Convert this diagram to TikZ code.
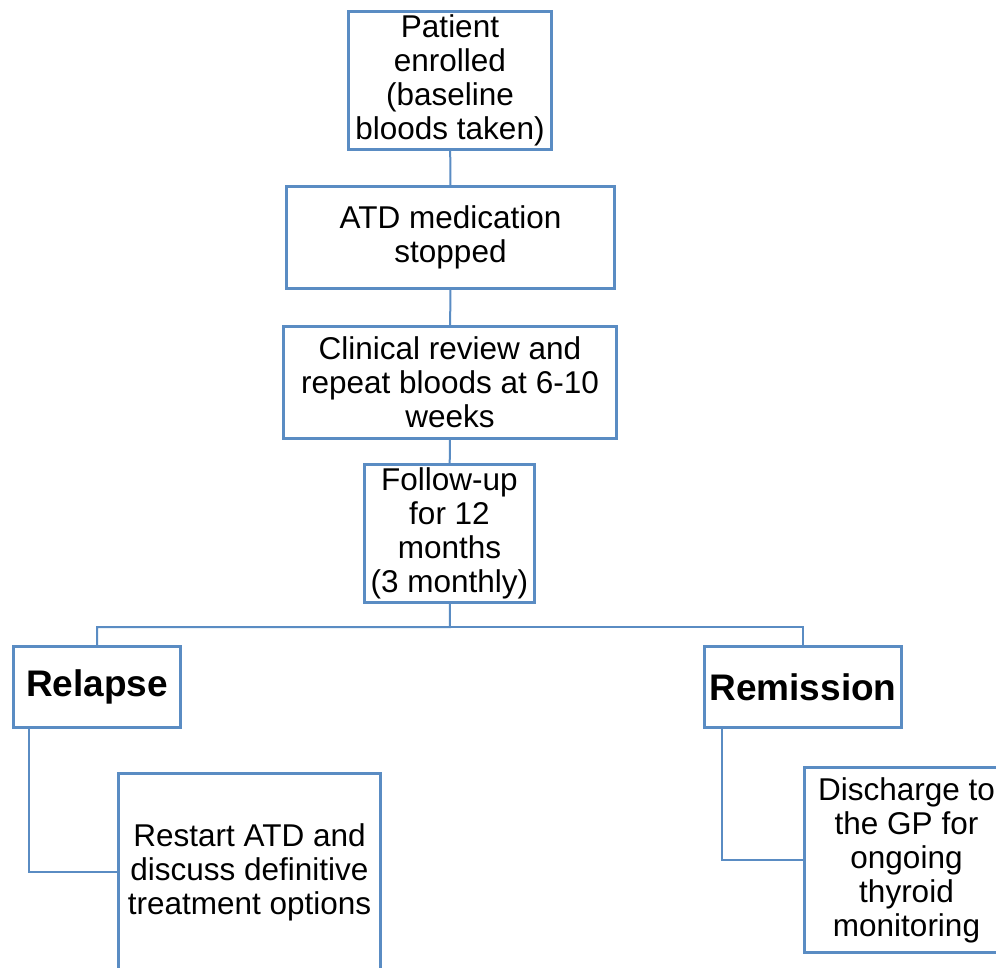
\documentclass[tikz,border=0pt]{standalone}
\usepackage{fontspec}
\setmainfont{Liberation Sans}
\usetikzlibrary{positioning}
\definecolor{boxblue}{HTML}{5A8CC3}
\begin{document}
\begin{tikzpicture}[x=1pt, y=-1pt,
    blk/.style={draw=boxblue, line width=3pt, rectangle, fill=white, align=center, inner sep=2pt, font=\fontsize{31.5}{34}\selectfont},
    big/.style={blk, font=\fontsize{37}{40}\selectfont\bfseries},
    link/.style={draw=boxblue, line width=2pt}]
    \useasboundingbox (0,0) rectangle (996,968);
    % Nodes
    \node[blk, minimum width=203pt, minimum height=138pt] (enrol) at (450,80.5) {Patient\\enrolled\\(baseline\\bloods taken)};
    \node[blk, minimum width=328pt, minimum height=102pt] (stop) at (450.5,237.5) {ATD medication\\stopped};
    \node[blk, minimum width=333pt, minimum height=112pt] (review) at (450,382.5) {Clinical review and\\repeat bloods at 6-10\\weeks};
    \node[blk, minimum width=170pt, minimum height=138pt] (follow) at (449.5,533.5) {Follow-up\\for 12\\months\\(3 monthly)};
    \node[big, minimum width=167pt, minimum height=81pt] (relapse) at (97,687) {Relapse};
    \node[big, minimum width=197pt, minimum height=81pt] (remission) at (803,687) {Remission};
    \node[blk, minimum width=262pt, minimum height=197pt] (restart) at (249.5,872) {Restart ATD and\\discuss definitive\\treatment options};
    \node[blk, minimum width=204pt, minimum height=185pt] (discharge) at (906.5,860) {Discharge to\\the GP for\\ongoing\\thyroid\\monitoring};
    \coordinate (split) at (450,627);

    % Connectors
    \draw[link] (enrol) -- (stop);
    \draw[link] (stop) -- (review);
    \draw[link] (review) -- (follow);
    \draw[link] (follow) -- (split) -| (relapse);
    \draw[link] (split) -| (remission);
    \draw[link] ([xshift=17pt]relapse.south west) |- (restart.west);
    \draw[link] ([xshift=19pt]remission.south west) |- (discharge.west);
\end{tikzpicture}
\end{document}
